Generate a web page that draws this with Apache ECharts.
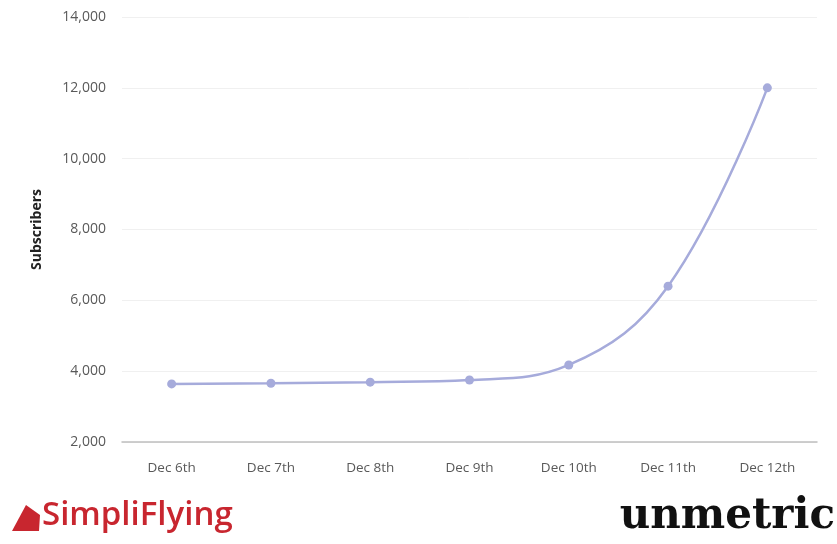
<!DOCTYPE html>
<html>
<head>
<meta charset="utf-8">
<script src="https://cdn.jsdelivr.net/npm/echarts@6/dist/echarts.min.js"></script>
<style>
  html, body { margin: 0; padding: 0; background: #fff; }
  #chart { width: 837px; height: 544px; }
</style>
</head>
<body>
<div id="chart"></div>
<script>
var days = ['Dec 6th', 'Dec 7th', 'Dec 8th', 'Dec 9th', 'Dec 10th', 'Dec 11th', 'Dec 12th'];
var subscribers = [3640, 3660, 3690, 3750, 4175, 6400, 12000];

var lineColor = '#a6abdb';

var myChart = echarts.init(document.getElementById('chart'));

myChart.setOption({
  animation: false,
  grid: {
    left: 122,
    right: 20,
    top: 17,
    bottom: 102
  },
  xAxis: {
    type: 'category',
    data: days,
    boundaryGap: true,
    axisLine: { lineStyle: { color: '#bfbfbf', width: 1.5 } },
    axisTick: { show: false },
    axisLabel: {
      color: '#595959',
      fontFamily: 'Open Sans',
      fontSize: 13.5,
      margin: 19
    }
  },
  yAxis: {
    type: 'value',
    min: 2000,
    max: 14000,
    interval: 2000,
    name: 'Subscribers',
    nameLocation: 'middle',
    nameGap: 78,
    nameTextStyle: {
      color: '#222',
      fontFamily: 'Open Sans',
      fontWeight: 'bold',
      fontSize: 14
    },
    axisLine: { show: false },
    axisTick: { show: false },
    splitLine: { lineStyle: { color: '#f0f0f0' } },
    axisLabel: {
      color: '#595959',
      fontFamily: 'Open Sans',
      fontSize: 14,
      margin: 16,
      formatter: function (v) { return v.toLocaleString('en-US'); }
    }
  },
  series: [{
    type: 'line',
    data: subscribers,
    smooth: 0.4,
    symbol: 'circle',
    symbolSize: 9,
    lineStyle: { color: lineColor, width: 2.5 },
    itemStyle: { color: lineColor }
  }],
  graphic: [
    {
      type: 'polygon',
      left: 12,
      top: 505,
      shape: { points: [[0, 26], [14, 0], [28, 10], [27, 26]] },
      style: { fill: '#c8262f' }
    },
    {
      type: 'text',
      left: 42,
      top: 499,
      style: {
        text: 'SimpliFlying',
        fill: '#c8262f',
        font: '600 33px "Open Sans"'
      }
    },
    {
      type: 'text',
      right: 2,
      top: 496,
      style: {
        text: 'unmetric',
        fill: '#111',
        font: 'bold 42px "DejaVu Serif"'
      }
    }
  ]
});
</script>
</body>
</html>
